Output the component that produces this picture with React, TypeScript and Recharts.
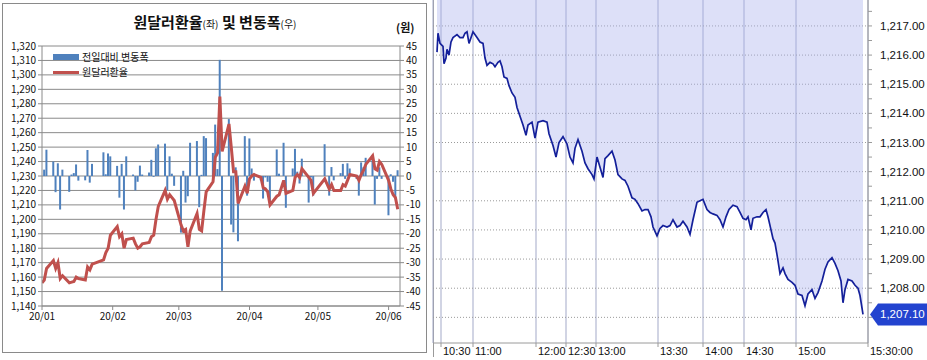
import React from 'react';
import {
  ComposedChart, Bar, Line, Area, XAxis, YAxis, CartesianGrid, Legend, ReferenceLine,
} from 'recharts';

// ---------- Left chart data (2020 USD/KRW daily) ----------
const monthTickDays = [0, 31, 60, 91, 121, 152];
const monthTickLabels = ['20/01', '20/02', '20/03', '20/04', '20/05', '20/06'];

// day number counted from 1 Jan 2020
const tradeDays = [
  0,
  1, 2, 5, 6, 7, 8, 9, 12, 13, 14, 15, 16, 19, 20, 21, 22, 27, 28, 29, 30,
  33, 34, 35, 36, 37, 40, 41, 42, 43, 44, 47, 48, 49, 50, 51, 54, 55, 56, 57, 58,
  61, 62, 63, 64, 65, 68, 69, 70, 71, 72, 75, 76, 77, 78, 79, 82, 83, 84, 85, 86, 89, 90,
  91, 92, 93, 96, 97, 98, 99, 100, 103, 104, 106, 107, 110, 111, 112, 113, 114, 117, 118, 119,
  124, 126, 127, 128, 131, 132, 133, 134, 135, 138, 139, 140, 141, 142, 145, 146, 147, 148, 149,
  152, 153, 154, 155, 156,
];

const usdKrw = [
  1156,
  1158, 1166, 1171.5, 1166, 1170, 1159, 1161, 1156, 1156.5, 1157, 1160, 1159, 1158, 1167, 1165, 1169, 1172, 1177, 1180, 1189,
  1195, 1188, 1190, 1180, 1186, 1187, 1183, 1180, 1181, 1183, 1184, 1188, 1189, 1200, 1209, 1220, 1214, 1217, 1215, 1213,
  1196, 1192, 1193, 1181, 1192, 1204, 1193, 1192, 1206, 1219, 1226, 1243, 1246, 1285, 1247, 1266, 1250, 1233, 1233, 1211, 1223, 1218,
  1228, 1230, 1231, 1229, 1222, 1221, 1219, 1210, 1216, 1217, 1227, 1218, 1220, 1229, 1231, 1229, 1235, 1229, 1227, 1218,
  1228, 1221, 1224, 1220, 1220, 1224, 1223, 1227, 1231, 1230, 1227, 1231, 1234, 1238, 1244, 1235, 1234, 1240, 1238,
  1227, 1221, 1217, 1215, 1207,
];

const dailyChange: (number | null)[] = [
  null,
  2.2, 9.1, 5, -5.6, 4.4, -11.6, 2.2, -5.5, 0.5, 1, 4, -1.6, -1.5, 9, -2.3, 4.2, 8.2, 0.6, 7.8, 6.8,
  3.5, -7.5, 4.2, -11.6, 6.8, 0.5, -5, -2, 3.6, 0.5, 1.2, 5.6, -0.3, 9.6, 10.9, 11.2, -5, 6.8, 0.8, -3.4,
  -19.6, 1.8, -9.2, -7, 11.5, 12.1, -10.8, 0.4, 13.8, 13.1, 8, 17.8, 2.4, 40.2, -39.7, 19.7, -16.8, -19.5, 3, -22.6, 13.8, -6.8,
  13, 2.6, -1.6, -1.5, -7.8, -0.5, -2, -9.4, 9.2, 0.8, 11.5, -11, 2.6, 9.4, 1.5, -2.6, 6, -9.2, -0.5, -6.8,
  11, -6.8, 3.1, -1.5, 1, 4.2, -1, 4.4, 2.6, -1, -6.8, 4.7, 3, 6.3, 7.3, -9.9, -1, 3, -1,
  -13.6, 0.6, -2, -7.8, 2,
];

const rateTicks = [1140, 1150, 1160, 1170, 1180, 1190, 1200, 1210, 1220, 1230, 1240, 1250, 1260, 1270, 1280, 1290, 1300, 1310, 1320];
const changeTicks = [-45, -40, -35, -30, -25, -20, -15, -10, -5, 0, 5, 10, 15, 20, 25, 30, 35, 40, 45];

const dailyData = tradeDays.map((d, i) => ({ day: d, rate: usdKrw[i], chg: dailyChange[i] }));

// ---------- Right chart data (intraday ticks) ----------
const intradayTickNo = [
  0, 1, 3, 6, 7, 9, 10, 12, 14, 16,
  20, 23, 26, 28, 30, 32, 35, 36, 40, 43,
  46, 48, 50, 53, 56, 58, 61, 63, 65, 67,
  70, 72, 75, 78, 80, 83, 86, 89, 91, 95,
  98, 101, 106, 110, 112, 116, 119, 122, 126, 130,
  133, 136, 138, 141, 145, 148, 151, 155, 157, 160,
  163, 166, 168, 171, 175, 178, 181, 185, 188, 191,
  195, 198, 201, 205, 208, 211, 214, 216, 220, 223,
  226, 230, 233, 236, 240, 243, 246, 250, 253, 256,
  260, 263, 266, 270, 273, 276, 280, 283, 286, 289,
  292, 296, 300, 303, 306, 309, 311, 314, 316, 320,
  323, 326, 329, 331, 334, 336, 338, 340, 343, 346,
  348, 351, 355, 358, 361, 365, 368, 371, 375, 378,
  381, 385, 388, 391, 395, 398, 401, 404, 406, 408,
  411, 415, 418, 421, 423, 426,
];
const intradayRate = [
  1216.1, 1216.75, 1216.4, 1216.3, 1215.7, 1215.9, 1216.2, 1216.0, 1216.45, 1216.6,
  1216.7, 1216.6, 1216.6, 1216.75, 1216.8, 1216.4, 1216.7, 1216.8, 1216.6, 1216.45,
  1216.4, 1215.9, 1215.65, 1215.75, 1215.7, 1215.6, 1215.75, 1215.8, 1215.6, 1215.25,
  1215.2, 1214.95, 1214.7, 1214.55, 1214.2, 1213.9, 1213.6, 1213.25, 1213.6, 1213.7,
  1213.15, 1213.7, 1213.75, 1213.7, 1213.3, 1212.9, 1212.5, 1213.0, 1213.2, 1212.95,
  1212.5, 1212.3, 1212.8, 1213.1, 1212.7, 1212.3, 1212.1, 1211.9, 1211.75, 1212.5,
  1212.15, 1211.8, 1212.45, 1212.55, 1212.7, 1212.4, 1211.9, 1211.75, 1211.7, 1211.5,
  1211.1, 1211.05, 1210.9, 1210.65, 1210.7, 1210.7, 1210.45, 1210.1, 1209.8, 1210.05,
  1210.15, 1210.1, 1210.15, 1210.35, 1210.1, 1210.15, 1210.3, 1210.1, 1209.85, 1210.35,
  1210.95, 1211.0, 1211.05, 1210.7, 1210.6, 1210.55, 1210.5, 1210.35, 1210.1, 1210.45,
  1210.7, 1210.85, 1210.8, 1210.6, 1210.4, 1210.35, 1210.45, 1210.0, 1210.4, 1210.45,
  1210.45, 1210.6, 1210.7, 1210.45, 1210.0, 1209.7, 1209.55, 1209.15, 1208.5, 1208.7,
  1208.5, 1208.3, 1208.2, 1208.1, 1207.8, 1207.75, 1207.4, 1207.8, 1207.95, 1207.65,
  1207.85, 1208.25, 1208.65, 1208.9, 1209.05, 1208.85, 1208.6, 1208.25, 1207.5, 1207.95,
  1208.3, 1208.25, 1208.1, 1208.0, 1207.75, 1207.1,
];
const timeTickNos = [4, 36, 99, 129, 159, 221, 266, 307, 359, 431];
const timeTickLabels = ['10:30', '11:00', '12:00', '12:30', '13:00', '13:30', '14:00', '14:30', '15:00', '15:30:00'];
const priceTicks = [1207, 1207.5, 1208, 1208.5, 1209, 1209.5, 1210, 1210.5, 1211, 1211.5, 1212, 1212.5, 1213, 1213.5, 1214, 1214.5, 1215, 1215.5, 1216, 1216.5, 1217, 1217.5];
const priceGridValues = [1207, 1208, 1209, 1210, 1211, 1212, 1213, 1214, 1215, 1216, 1217];

const intradayData = intradayTickNo.map((t, i) => ({ t, v: intradayRate[i] }));
const closePrice = intradayRate[intradayRate.length - 1];

const KR = '"Noto Sans CJK KR", "Noto Sans", sans-serif';
const LS = '"Liberation Sans", Arial, sans-serif';

const fmtComma = (v: number) => v.toLocaleString('en-US');
const fmtPrice = (v: number) =>
  v.toLocaleString('en-US', { minimumFractionDigits: 2, maximumFractionDigits: 2 });

const legendRow: React.CSSProperties = {
  display: 'flex', alignItems: 'center', height: 12, lineHeight: '12px', whiteSpace: 'nowrap',
};

const LeftLegend = () => (
  <div style={{ fontFamily: KR, fontSize: 10, color: '#111' }}>
    <div style={legendRow}>
      <span style={{ display: 'inline-block', width: 26, height: 6, background: '#4f81bd', marginRight: 3 }} />
      <span>전일대비 변동폭</span>
    </div>
    <div style={{ ...legendRow, marginTop: 3 }}>
      <span style={{ display: 'inline-block', width: 26, height: 3, background: '#c0504d', marginRight: 3 }} />
      <span>원달러환율</span>
    </div>
  </div>
);

const TimeTick = (props: any) => {
  const { x, y, payload } = props;
  const idx = timeTickNos.indexOf(payload.value);
  return (
    <text x={x + 2} y={y} dy="0.75em" textAnchor="start" fontSize={11} fontFamily={LS} fill="#111">
      {timeTickLabels[idx]}
    </text>
  );
};

const PriceTag = (props: any) => {
  const vb = props.viewBox || {};
  const x0 = (vb.x || 0) + (vb.width || 0);
  const y0 = vb.y || 0;
  return (
    <g>
      <polygon
        points={`${x0 + 2},${y0} ${x0 + 10},${y0 - 11} ${x0 + 59},${y0 - 11} ${x0 + 59},${y0 + 11} ${x0 + 10},${y0 + 11}`}
        fill="#2343cf"
      />
      <text x={x0 + 12} y={y0 + 4} fill="#fff" fontSize={11.5} fontFamily={LS}>
        {fmtPrice(closePrice)}
      </text>
    </g>
  );
};

export default function App() {
  return (
    <div style={{ position: 'absolute', left: 0, top: 0, width: 927, height: 360, background: '#fff', overflow: 'hidden' }}>
      {/* Left chart */}
      <div style={{ position: 'absolute', left: 2, top: 3, width: 425, height: 350, border: '1px solid #8a8a8a', boxSizing: 'border-box' }} />
      <div style={{ position: 'absolute', left: 0, top: 0 }}>
        <ComposedChart width={430} height={360} data={dailyData} margin={{ top: 46, right: 0, bottom: 7, left: 0 }}>
          <CartesianGrid yAxisId="left" vertical={false} stroke="#8a8a8a" />
          <XAxis
            dataKey="day"
            type="number"
            domain={[0, 157]}
            ticks={monthTickDays}
            interval={0}
            tickFormatter={(v: number) => monthTickLabels[monthTickDays.indexOf(v)]}
            allowDataOverflow
            stroke="#8a8a8a"
            tickSize={4}
            tickMargin={3}
            height={20}
            tick={{ fontSize: 10, fill: '#111', fontFamily: KR }}
          />
          <YAxis
            yAxisId="left"
            domain={[1140, 1320]}
            ticks={rateTicks}
            interval={0}
            allowDataOverflow
            tickFormatter={fmtComma}
            width={42}
            stroke="#8a8a8a"
            tickSize={4}
            tickMargin={2}
            tick={{ fontSize: 10, fill: '#111', fontFamily: KR }}
          />
          <YAxis
            yAxisId="right"
            orientation="right"
            domain={[-45, 45]}
            ticks={changeTicks}
            interval={0}
            allowDataOverflow
            width={30}
            stroke="#8a8a8a"
            tickSize={4}
            tickMargin={2}
            tick={{ fontSize: 10, fill: '#111', fontFamily: KR }}
          />
          <Legend
            content={<LeftLegend />}
            wrapperStyle={{ position: 'absolute', left: 53, top: 51, width: 'auto' }}
          />
          <Bar yAxisId="right" dataKey="chg" fill="#4f81bd" barSize={2} isAnimationActive={false} name="전일대비 변동폭" />
          <Line yAxisId="left" dataKey="rate" stroke="#c0504d" strokeWidth={3} dot={false} activeDot={false} type="linear" isAnimationActive={false} name="원달러환율" />
        </ComposedChart>
      </div>
      <div style={{ position: 'absolute', left: 0, width: 430, top: 11, textAlign: 'center', fontFamily: KR, fontWeight: 700, fontSize: 15, color: '#111', whiteSpace: 'nowrap' }}>
        원달러환율<span style={{ fontSize: 10, fontWeight: 400 }}>(좌)</span> 및 변동폭<span style={{ fontSize: 10, fontWeight: 400 }}>(우)</span>
      </div>
      <div style={{ position: 'absolute', left: 396, top: 19, fontFamily: KR, fontWeight: 700, fontSize: 11, color: '#111' }}>(원)</div>

      {/* Right chart */}
      <div style={{ position: 'absolute', left: 433, top: 0, width: 1, height: 357, background: '#9a9a9a' }} />
      <div style={{ position: 'absolute', left: 430, top: 0 }}>
        <ComposedChart width={497} height={360} data={intradayData} margin={{ top: 0, right: 0, bottom: 0, left: 3 }}>
          <CartesianGrid horizontal={false} vertical stroke="#a3a9c8" />
          <CartesianGrid vertical={false} horizontalValues={priceGridValues} stroke="#9a9a9a" strokeDasharray="1 2" />
          <XAxis
            dataKey="t"
            type="number"
            domain={[-4, 431]}
            ticks={timeTickNos}
            interval={0}
            allowDataOverflow
            stroke="#9a9a9a"
            tickSize={4}
            tickMargin={0}
            height={17}
            tick={<TimeTick />}
          />
          <YAxis
            orientation="right"
            domain={[1206.12, 1217.89]}
            ticks={priceTicks}
            interval={0}
            allowDataOverflow
            width={59}
            stroke="#9a9a9a"
            tickSize={4}
            tickMargin={8}
            tickFormatter={(v: number) => (Number.isInteger(v) && v !== 1207 ? fmtPrice(v) : '')}
            tick={{ fontSize: 11.5, fill: '#111', fontFamily: LS }}
          />
          <Area
            type="linear"
            dataKey="v"
            baseValue="dataMax"
            stroke="#14209a"
            strokeWidth={1.7}
            fill="#aab2ee"
            fillOpacity={0.4}
            dot={false}
            activeDot={false}
            isAnimationActive={false}
          />
          <ReferenceLine y={closePrice} stroke="none" ifOverflow="visible" label={<PriceTag />} />
        </ComposedChart>
      </div>
    </div>
  );
}
